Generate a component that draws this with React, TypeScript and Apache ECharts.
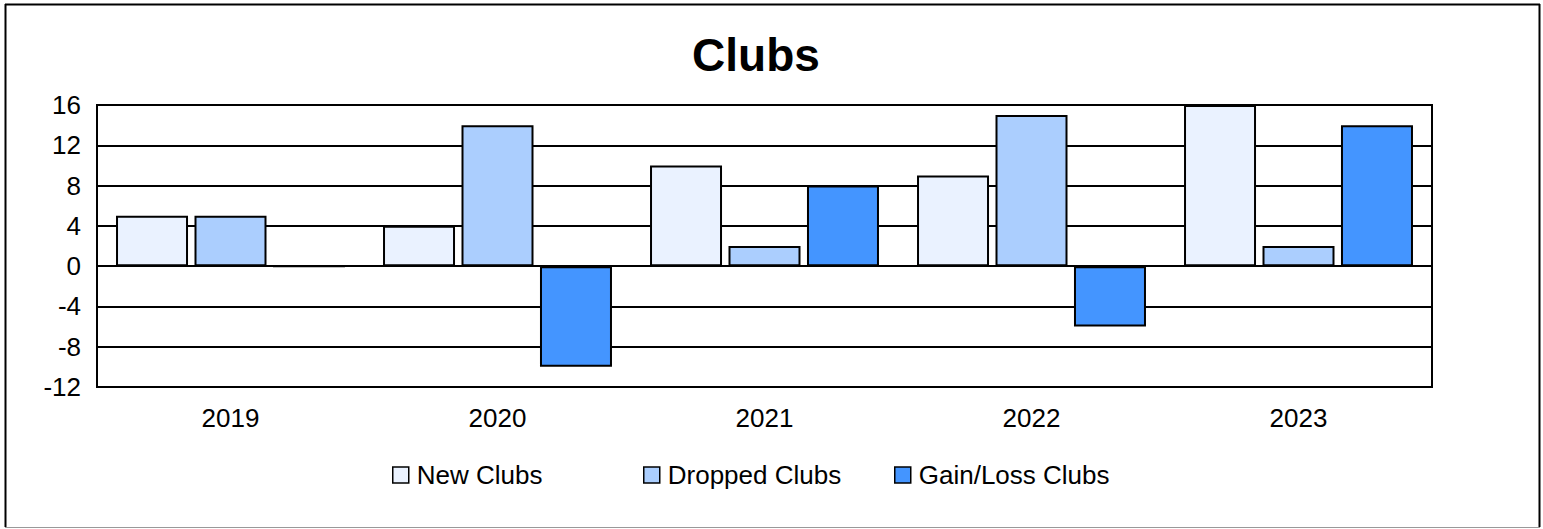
import React, { useEffect, useRef } from "react";
import * as echarts from "echarts";

const categories = ["2019", "2020", "2021", "2022", "2023"];
const newClubs = [5, 4, 10, 9, 16];
const droppedClubs = [5, 14, 2, 15, 2];
const gainLossClubs = [0, -10, 8, -6, 14];
const seriesNames = ["New Clubs", "Dropped Clubs", "Gain/Loss Clubs"];
const seriesColors = ["#EAF2FF", "#ABCEFE", "#4495FF"];
const legendLefts = [392, 643, 894];

const FONT = "'Liberation Sans', Arial, sans-serif";

export default function App() {
  const ref = useRef<HTMLDivElement>(null);
  useEffect(() => {
    if (!ref.current) return;
    const chart = echarts.init(ref.current, undefined, { renderer: "svg" });
    const seriesData = [newClubs, droppedClubs, gainLossClubs];
    chart.setOption({
      animation: false,
      backgroundColor: "#fff",
      title: {
        text: "Clubs",
        left: 751,
        top: 50,
        textAlign: "center",
        textVerticalAlign: "middle",
        textStyle: { fontFamily: FONT, fontSize: 46, fontWeight: "bold", color: "#000" },
      },
      grid: {
        left: 97,
        top: 105,
        right: 111,
        bottom: 142,
        show: true,
        borderColor: "#000",
        borderWidth: 2,
        containLabel: false,
      },
      legend: seriesNames.map((name, i) => ({
        data: [name],
        left: legendLefts[i],
        top: 461,
        padding: 0,
        itemWidth: 16,
        itemHeight: 16,
        icon: "rect",
        itemStyle: { borderColor: "#000", borderWidth: 1.5 },
        textStyle: { fontFamily: FONT, fontSize: 26, color: "#000", padding: [0, 0, 0, 3], lineHeight: 28 },
        selectedMode: false,
      })),
      xAxis: {
        type: "category",
        data: categories,
        axisLine: { show: true, onZero: false, lineStyle: { color: "#000", width: 2 } },
        axisTick: { show: false },
        axisLabel: { fontFamily: FONT, fontSize: 26, color: "#000", margin: 18 },
        splitLine: { show: false },
      },
      yAxis: {
        type: "value",
        min: -12,
        max: 16,
        interval: 4,
        axisLine: { show: true, lineStyle: { color: "#000", width: 2 } },
        axisTick: { show: false },
        axisLabel: { fontFamily: FONT, fontSize: 26, color: "#000", margin: 16 },
        splitLine: { show: true, lineStyle: { color: "#000", width: 2 } },
      },
      series: seriesNames.map((name, i) => ({
        name,
        type: "bar",
        data: seriesData[i],
        barWidth: 72,
        barGap: "9%",
        itemStyle: { color: seriesColors[i], borderColor: "#000", borderWidth: 2 },
      })),
      graphic: [
        { type: "line", shape: { x1: 5, y1: 4.5, x2: 1540, y2: 4.5 }, style: { stroke: "#000", lineWidth: 2 } },
        { type: "line", shape: { x1: 5.5, y1: 4, x2: 5.5, y2: 527 }, style: { stroke: "#000", lineWidth: 2 } },
        { type: "line", shape: { x1: 1539.5, y1: 4, x2: 1539.5, y2: 527 }, style: { stroke: "#000", lineWidth: 2 } },
        { type: "line", shape: { x1: 5, y1: 527.5, x2: 1540, y2: 527.5 }, style: { stroke: "#999", lineWidth: 1 } },
      ],
    });
    return () => chart.dispose();
  }, []);
  return (
    <div
      ref={ref}
      style={{ position: "fixed", left: 0, top: 0, width: 1543, height: 529 }}
    />
  );
}
